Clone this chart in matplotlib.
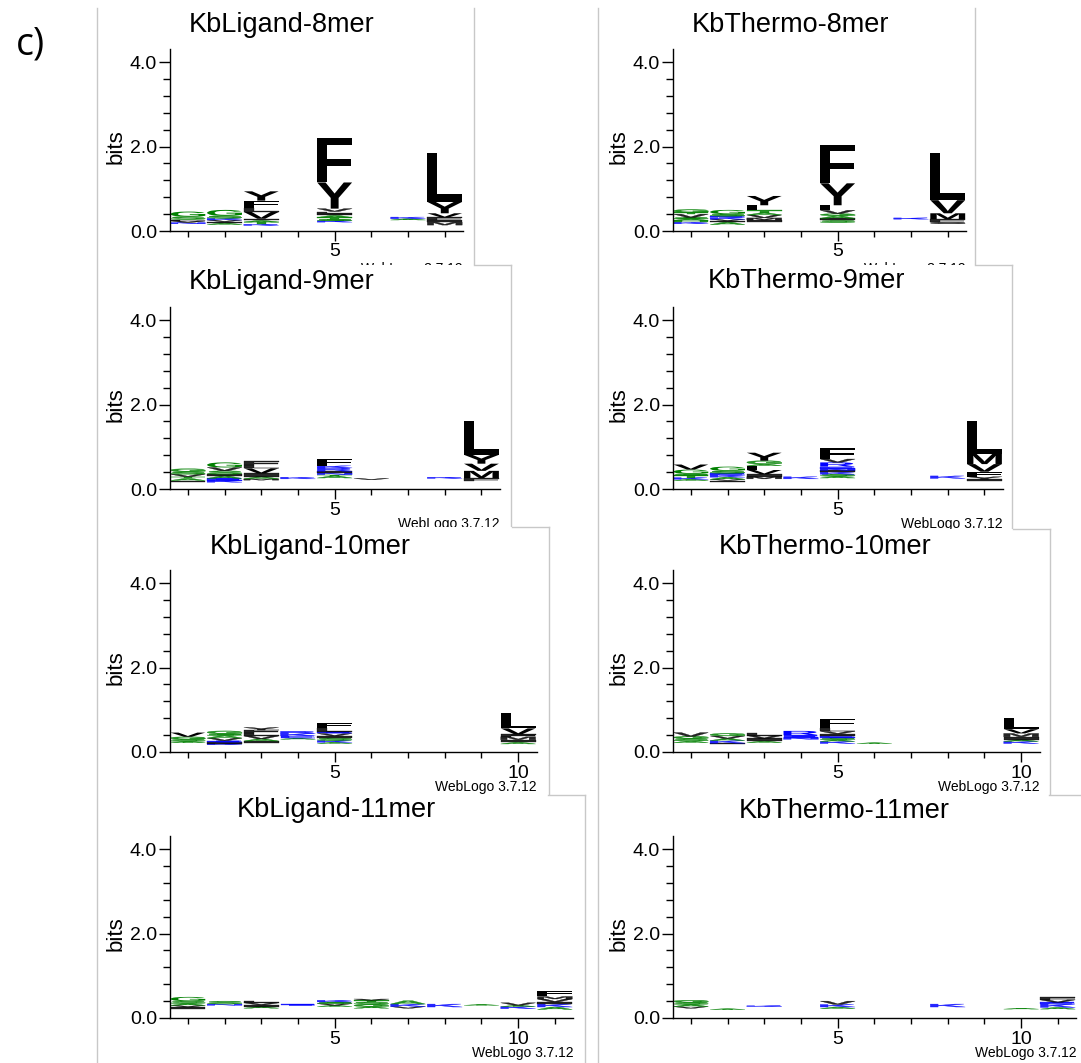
import matplotlib
matplotlib.use('Agg')
import matplotlib.pyplot as plt
from matplotlib.textpath import TextPath
from matplotlib.patches import PathPatch, Rectangle
from matplotlib.font_manager import FontProperties
from matplotlib.lines import Line2D
import matplotlib.transforms as mtransforms

plt.rcParams['font.family'] = ['Liberation Sans', 'DejaVu Sans']

# ---------------- data ----------------
TITLES_LEFT = ['KbLigand-8mer', 'KbLigand-9mer', 'KbLigand-10mer', 'KbLigand-11mer']
TITLES_RIGHT = ['KbThermo-8mer', 'KbThermo-9mer', 'KbThermo-10mer', 'KbThermo-11mer']
N_POSITIONS = [8, 9, 10, 11]
Y_TICK_LABELS = ['0.0', '2.0', '4.0']
Y_MAJOR = [0.0, 2.0, 4.0]
Y_MINOR = [0.4, 0.8, 1.2, 1.6, 2.4, 2.8, 3.2, 3.6]
X_LABELED = [5, 10]
VERSION = 'WebLogo 3.7.12'

# invisible (tiny letters) height under each stack, bits
LIG8_BASE = [0.17, 0.15, 0.13, 0.0, 0.21, 0.0, 0.26, 0.14]
LIG8 = [
    [('N', 0.03), ('V', 0.04), ('L', 0.03), ('S', 0.07), ('G', 0.12)],
    [('A', 0.04), ('I', 0.03), ('V', 0.04), ('K', 0.04), ('S', 0.06), ('G', 0.14)],
    [('K', 0.03), ('T', 0.05), ('A', 0.04), ('I', 0.04), ('V', 0.16), ('L', 0.09), ('F', 0.18), ('Y', 0.22)],
    [],
    [('K', 0.03), ('S', 0.04), ('T', 0.04), ('A', 0.05), ('I', 0.04), ('L', 0.05), ('V', 0.07), ('Y', 0.62), ('F', 1.05)],
    [],
    [('A', 0.03), ('K', 0.04)],
    [('M', 0.07), ('I', 0.05), ('F', 0.06), ('V', 0.10), ('Y', 0.27), ('L', 1.15)],
]

THERMO8_BASE = [0.17, 0.15, 0.22, 0.0, 0.20, 0.0, 0.28, 0.17]
THERMO8 = [
    [('K', 0.04), ('H', 0.04), ('A', 0.04), ('S', 0.03), ('V', 0.08), ('T', 0.04), ('G', 0.07)],
    [('A', 0.06), ('I', 0.03), ('V', 0.04), ('K', 0.04), ('E', 0.03), ('S', 0.05), ('G', 0.10)],
    [('I', 0.04), ('M', 0.05), ('V', 0.07), ('A', 0.05), ('T', 0.06), ('L', 0.12), ('Y', 0.22)],
    [],
    [('S', 0.05), ('I', 0.05), ('A', 0.06), ('G', 0.05), ('V', 0.08), ('L', 0.12), ('Y', 0.52), ('F', 0.91)],
    [],
    [('K', 0.03)],
    [('C', 0.04), ('F', 0.07), ('M', 0.14), ('V', 0.31), ('L', 1.11)],
]

LIG9_BASE = [0.17, 0.16, 0.21, 0.24, 0.26, 0.22, 0.0, 0.25, 0.18]
LIG9 = [
    [('I', 0.03), ('A', 0.05), ('T', 0.04), ('V', 0.06), ('S', 0.06), ('G', 0.07)],
    [('K', 0.04), ('E', 0.05), ('A', 0.06), ('I', 0.04), ('S', 0.08), ('V', 0.08), ('G', 0.12)],
    [('M', 0.03), ('A', 0.05), ('I', 0.08), ('V', 0.12), ('L', 0.08), ('F', 0.09)],
    [('K', 0.04)],
    [('A', 0.05), ('T', 0.03), ('N', 0.04), ('I', 0.04), ('R', 0.08), ('K', 0.05), ('F', 0.15)],
    [('V', 0.03)],
    [],
    [('K', 0.03)],
    [('F', 0.08), ('M', 0.17), ('V', 0.17), ('Y', 0.21), ('L', 0.79)],
]

THERMO9_BASE = [0.20, 0.17, 0.24, 0.24, 0.26, 0.0, 0.0, 0.25, 0.18]
THERMO9 = [
    [('A', 0.03), ('K', 0.04), ('T', 0.05), ('S', 0.04), ('G', 0.10), ('V', 0.12)],
    [('I', 0.03), ('V', 0.03), ('A', 0.05), ('K', 0.05), ('E', 0.04), ('S', 0.06), ('G', 0.10)],
    [('M', 0.05), ('I', 0.06), ('V', 0.10), ('F', 0.10), ('A', 0.04), ('G', 0.08), ('Y', 0.19)],
    [('K', 0.05)],
    [('A', 0.04), ('S', 0.05), ('K', 0.05), ('I', 0.04), ('N', 0.04), ('E', 0.05), ('R', 0.10), ('V', 0.08), ('F', 0.25)],
    [],
    [],
    [('K', 0.06)],
    [('I', 0.05), ('Y', 0.06), ('F', 0.12), ('V', 0.18), ('M', 0.24), ('L', 0.77)],
]

LIG10_BASE = [0.22, 0.17, 0.22, 0.30, 0.20, 0.0, 0.0, 0.0, 0.0, 0.19]
LIG10 = [
    [('A', 0.03), ('S', 0.05), ('G', 0.06), ('V', 0.10)],
    [('K', 0.03), ('I', 0.03), ('E', 0.04), ('V', 0.06), ('A', 0.06), ('S', 0.04), ('G', 0.07)],
    [('I', 0.04), ('A', 0.05), ('V', 0.07), ('L', 0.08), ('F', 0.06), ('Y', 0.06)],
    [('A', 0.03), ('E', 0.05), ('K', 0.06), ('R', 0.05)],
    [('A', 0.03), ('K', 0.04), ('S', 0.06), ('I', 0.05), ('V', 0.06), ('E', 0.04), ('L', 0.08), ('F', 0.13)],
    [], [], [], [],
    [('A', 0.04), ('I', 0.06), ('M', 0.07), ('F', 0.06), ('V', 0.14), ('L', 0.36)],
]

THERMO10_BASE = [0.22, 0.18, 0.22, 0.30, 0.20, 0.20, 0.0, 0.0, 0.0, 0.20]
THERMO10 = [
    [('A', 0.04), ('S', 0.06), ('G', 0.05), ('V', 0.09)],
    [('I', 0.03), ('K', 0.06), ('A', 0.05), ('V', 0.06), ('G', 0.06)],
    [('A', 0.04), ('I', 0.06), ('V', 0.07), ('L', 0.07)],
    [('N', 0.04), ('E', 0.06), ('R', 0.10)],
    [('K', 0.05), ('A', 0.04), ('S', 0.05), ('E', 0.04), ('I', 0.05), ('V', 0.06), ('L', 0.09), ('F', 0.20)],
    [('A', 0.02)],
    [], [], [],
    [('K', 0.05), ('A', 0.04), ('I', 0.07), ('M', 0.08), ('V', 0.10), ('L', 0.26)],
]

LIG11_BASE = [0.22, 0.30, 0.23, 0.30, 0.27, 0.23, 0.23, 0.26, 0.30, 0.22, 0.20]
LIG11 = [
    [('I', 0.04), ('V', 0.04), ('A', 0.04), ('S', 0.06), ('G', 0.10)],
    [('N', 0.03), ('S', 0.07)],
    [('A', 0.04), ('I', 0.04), ('V', 0.05), ('L', 0.05)],
    [('E', 0.02)],
    [('A', 0.03), ('V', 0.04), ('S', 0.04), ('K', 0.04)],
    [('A', 0.04), ('G', 0.05), ('S', 0.06), ('T', 0.04), ('V', 0.03)],
    [('V', 0.04), ('K', 0.06), ('A', 0.08)],
    [('K', 0.07)],
    [('A', 0.02)],
    [('K', 0.05), ('A', 0.03), ('V', 0.06)],
    [('A', 0.06), ('K', 0.07), ('I', 0.05), ('V', 0.07), ('M', 0.06), ('F', 0.14)],
]

THERMO11_BASE = [0.23, 0.20, 0.27, 0.0, 0.22, 0.0, 0.0, 0.26, 0.0, 0.21, 0.21]
THERMO11 = [
    [('V', 0.04), ('A', 0.05), ('S', 0.05), ('G', 0.05)],
    [('A', 0.02)],
    [('K', 0.02)],
    [],
    [('A', 0.04), ('K', 0.06), ('V', 0.08)],
    [], [],
    [('K', 0.07)],
    [],
    [('A', 0.02)],
    [('A', 0.04), ('K', 0.08), ('E', 0.04), ('V', 0.06), ('F', 0.06)],
]

# hydrophobicity colour scheme (WebLogo)
COLOR_GROUPS = {'RKDENQ': '#0000ff', 'SGHTAP': '#008000', 'YVMCLFIW': '#000000'}

# ---------------- layout (pixels) ----------------
W, H = 1081, 1063
STEP = 36.7          # px per position
PXB = 42.2           # px per bit
YMAX = 4.32
fig = plt.figure(figsize=(W / 100, H / 100), dpi=100)


def fx(px):
    return px / W


def fy(py):
    return 1 - py / H


FP = FontProperties(family='Liberation Sans', weight='bold')
_cache = {}


def glyph(ch):
    if ch not in _cache:
        p = TextPath((0, 0), ch, size=1, prop=FP)
        _cache[ch] = (p, p.get_extents())
    return _cache[ch]


def color_of(ch):
    for k, v in COLOR_GROUPS.items():
        if ch in k:
            return v
    return '#000000'


def draw_letter(ax, ch, x, y0, h, w):
    p, bb = glyph(ch)
    t = (mtransforms.Affine2D().translate(-bb.x0, -bb.y0)
         .scale(w / bb.width, h / bb.height).translate(x - w / 2, y0))
    thin = h < 0.1
    ax.add_patch(PathPatch(t.transform_path(p), facecolor=color_of(ch),
                           edgecolor=color_of(ch) if thin else 'none',
                           lw=0.25 if thin else 0, alpha=0.85 if thin else 1))


def panel(row, n, base, stacks, title, ax_left, zero, title_xy, box_left, box_right, box_top):
    z = 10 * row
    if row > 0:
        fig.add_artist(Rectangle((fx(box_left), 0), fx(box_right) - fx(box_left), fy(box_top),
                                 transform=fig.transFigure, facecolor='white',
                                 edgecolor='none', zorder=z + 1))
        fig.add_artist(Line2D([fx(box_right - 37), fx(box_right)], [fy(box_top), fy(box_top)],
                              transform=fig.transFigure, color='#c8c8c8', lw=1, zorder=z + 4))
    fig.add_artist(Line2D([fx(box_right), fx(box_right)], [fy(box_top), fy(box_top + 270 if row < 3 else H + 5)],
                          transform=fig.transFigure, color='#c8c8c8', lw=1, zorder=z + 4))
    w_px = n * STEP
    h_px = YMAX * PXB
    ax = fig.add_axes([fx(ax_left), fy(zero), w_px / W, h_px / H])
    ax.set_zorder(z + 2)
    ax.patch.set_alpha(0)
    ax.set_xlim(0.5, n + 0.5)
    ax.set_ylim(0, YMAX)
    for s in ['top', 'right']:
        ax.spines[s].set_visible(False)
    for s in ['left', 'bottom']:
        ax.spines[s].set_linewidth(1.0)
    ax.set_yticks(Y_MAJOR)
    ax.set_yticklabels(Y_TICK_LABELS)
    ax.set_yticks(Y_MINOR, minor=True)
    labeled = [p for p in X_LABELED if p <= n]
    ax.set_xticks(labeled)
    ax.set_xticklabels([str(p) for p in labeled])
    ax.set_xticks([p for p in range(1, n + 1) if p not in labeled], minor=True)
    ax.tick_params(axis='y', which='major', length=8, width=1, pad=1, labelsize=14)
    ax.tick_params(axis='y', which='minor', length=5, width=1)
    ax.tick_params(axis='x', which='major', length=7, width=1, pad=2, labelsize=14)
    ax.tick_params(axis='x', which='minor', length=4, width=1)
    for i, stack in enumerate(stacks):
        y = base[i]
        for ch, h in stack:
            draw_letter(ax, ch, i + 1, y, h, 0.95)
            y += h
    fig.text(fx(ax_left - 53), fy(zero - 2.0 * PXB), 'bits', rotation=90,
             ha='center', va='center', fontsize=16, zorder=z + 3)
    fig.text(fx(title_xy[0]), fy(title_xy[1]), title, ha='center', va='center',
             fontsize=19.5, zorder=z + 3)
    wl_y = zero + (37.5 if row == 0 else 35)
    fig.text(fx(ax_left + w_px), fy(wl_y), VERSION, ha='right', va='center',
             fontsize=10, zorder=z + 3)


LEFT_DATA = [(LIG8_BASE, LIG8), (LIG9_BASE, LIG9), (LIG10_BASE, LIG10), (LIG11_BASE, LIG11)]
RIGHT_DATA = [(THERMO8_BASE, THERMO8), (THERMO9_BASE, THERMO9), (THERMO10_BASE, THERMO10), (THERMO11_BASE, THERMO11)]
ZEROS = [231, 489, 752, 1018]
BOX_TOPS_L = [8, 265, 527, 795]
BOX_TOPS_R = [8, 265, 529, 795]
BOX_RIGHT_L = [474, 511, 549, 585]
BOX_RIGHT_R = [975, 1012, 1050, 1086]
TITLE_POS_L = [(282, 25), (282, 282), (310, 547), (336, 810)]
TITLE_POS_R = [(790, 25), (806, 281), (825, 547), (844, 811)]

for r in range(4):
    panel(r, N_POSITIONS[r], LEFT_DATA[r][0], LEFT_DATA[r][1], TITLES_LEFT[r],
          169.5, ZEROS[r], TITLE_POS_L[r], 97, BOX_RIGHT_L[r], BOX_TOPS_L[r])
    panel(r, N_POSITIONS[r], RIGHT_DATA[r][0], RIGHT_DATA[r][1], TITLES_RIGHT[r],
          672.5, ZEROS[r], TITLE_POS_R[r], 598, BOX_RIGHT_R[r], BOX_TOPS_R[r])

for xl in (97, 598):
    fig.add_artist(Line2D([fx(xl), fx(xl)], [fy(8), 0], transform=fig.transFigure,
                          color='#c8c8c8', lw=1, zorder=100))

fig.text(fx(30), fy(45), 'c)', fontsize=27, family=['Open Sans', 'DejaVu Sans'],
         ha='center', va='center')

fig.savefig('out.png', dpi=100, facecolor='white')
